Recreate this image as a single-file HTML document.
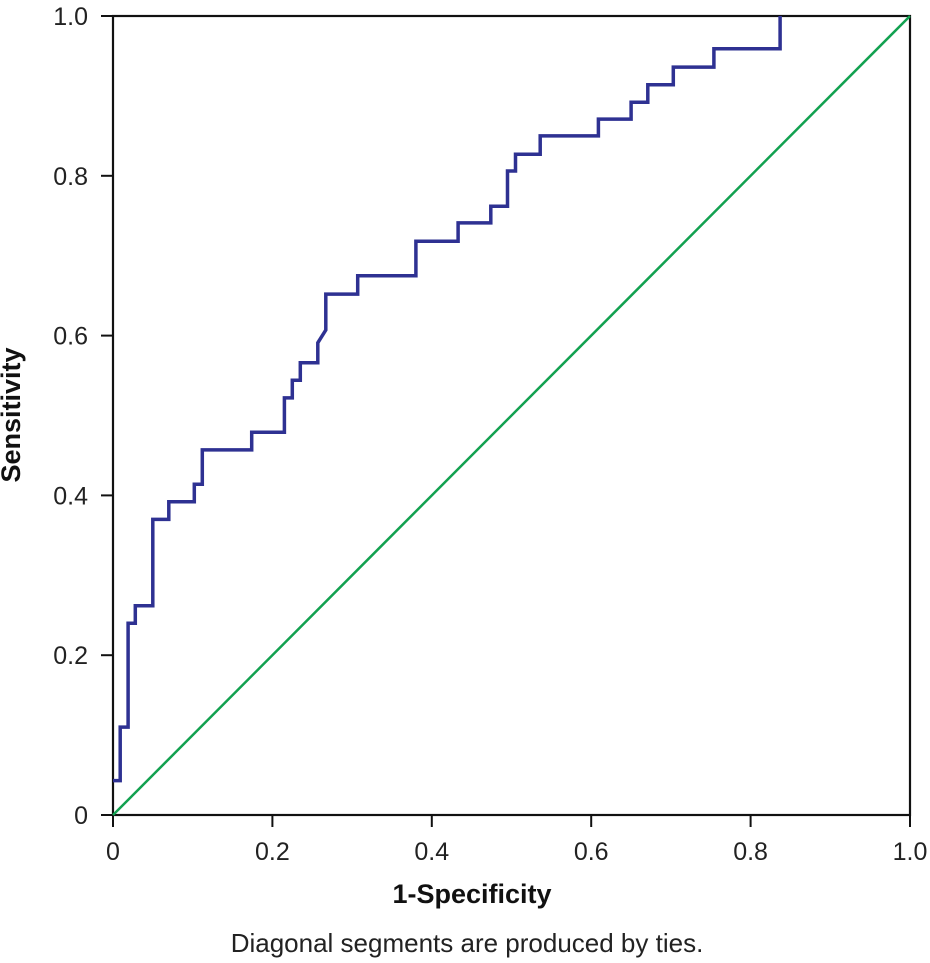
<!DOCTYPE html>
<html><head><meta charset="utf-8"><style>
html,body{margin:0;padding:0;background:#fff}
svg{display:block;font-family:"Liberation Sans",sans-serif}
</style></head><body>
<svg id="chart" width="930" height="963" viewBox="0 0 930 963">
<g id="axes"></g>
<g id="series"></g>
<text x="472" y="903" font-size="27" font-weight="bold" text-anchor="middle" fill="#111">1-Specificity</text>
<text transform="translate(20,415) rotate(-90)" font-size="27" font-weight="bold" text-anchor="middle" fill="#111">Sensitivity</text>
<text x="467" y="952" font-size="26" text-anchor="middle" fill="#222">Diagonal segments are produced by ties.</text>
</svg>
<script>
const fpr = [0,0.009,0.009,0.019,0.019,0.028,0.028,0.050,0.050,0.070,0.070,0.102,0.102,0.112,0.112,0.174,0.174,0.215,0.215,0.225,0.225,0.235,0.235,0.257,0.257,0.267,0.267,0.307,0.307,0.380,0.380,0.433,0.433,0.474,0.474,0.495,0.495,0.505,0.505,0.536,0.536,0.609,0.609,0.650,0.650,0.671,0.671,0.703,0.703,0.754,0.754,0.837,0.837];
const tpr = [0.043,0.043,0.110,0.110,0.240,0.240,0.262,0.262,0.370,0.370,0.392,0.392,0.414,0.414,0.457,0.457,0.479,0.479,0.522,0.522,0.544,0.544,0.566,0.566,0.591,0.607,0.652,0.652,0.675,0.675,0.718,0.718,0.741,0.741,0.762,0.762,0.806,0.806,0.827,0.827,0.850,0.850,0.871,0.871,0.892,0.892,0.914,0.914,0.936,0.936,0.959,0.959,1.0];
const xTicks = [0,0.2,0.4,0.6,0.8,1.0];
const xTickLabels = ["0","0.2","0.4","0.6","0.8","1.0"];
const yTicks = [0,0.2,0.4,0.6,0.8,1.0];
const yTickLabels = ["0","0.2","0.4","0.6","0.8","1.0"];
const refLine = [0,1];

const NS="http://www.w3.org/2000/svg";
const L=113,R=910,T=16,B=815;
function sx(v){return L+v*(R-L);}
function sy(v){return B-v*(B-T);}
function mk(tag,attrs,parent){const e=document.createElementNS(NS,tag);for(const k in attrs)e.setAttribute(k,attrs[k]);parent.appendChild(e);return e;}
const axes=document.getElementById('axes'), series=document.getElementById('series');
const box=mk('rect',{x:L,y:T,width:R-L,height:B-T,fill:'none',stroke:'#111','stroke-width':2.2},axes);


xTicks.forEach((v,i)=>{
  const t=mk('line',{x1:sx(v),x2:sx(v),y1:B,y2:B+12,stroke:'#111','stroke-width':2},axes);
  
  
  const tx=mk('text',{x:sx(v),y:B+45,'font-size':25,'text-anchor':'middle',fill:'#222'},axes);
  tx.textContent=xTickLabels[i];
  
  
});
yTicks.forEach((v,i)=>{
  const t=mk('line',{x1:L-12,x2:L,y1:sy(v),y2:sy(v),stroke:'#111','stroke-width':2},axes);
  
  
  const tx=mk('text',{x:L-25,y:sy(v)+9,'font-size':25,'text-anchor':'end',fill:'#222'},axes);
  tx.textContent=yTickLabels[i];
  
  
});
const ref=mk('line',{x1:sx(refLine[0]),y1:sy(refLine[0]),x2:sx(refLine[1]),y2:sy(refLine[1]),stroke:'#12a150','stroke-width':2.5},series);


const d=fpr.map((x,i)=>(i?'L':'M')+sx(x).toFixed(1)+','+sy(tpr[i]).toFixed(1)).join(' ');
const roc=mk('path',{d:d,fill:'none',stroke:'#2e3192','stroke-width':3.5,'stroke-linejoin':'miter'},series);


</script>
</body></html>
